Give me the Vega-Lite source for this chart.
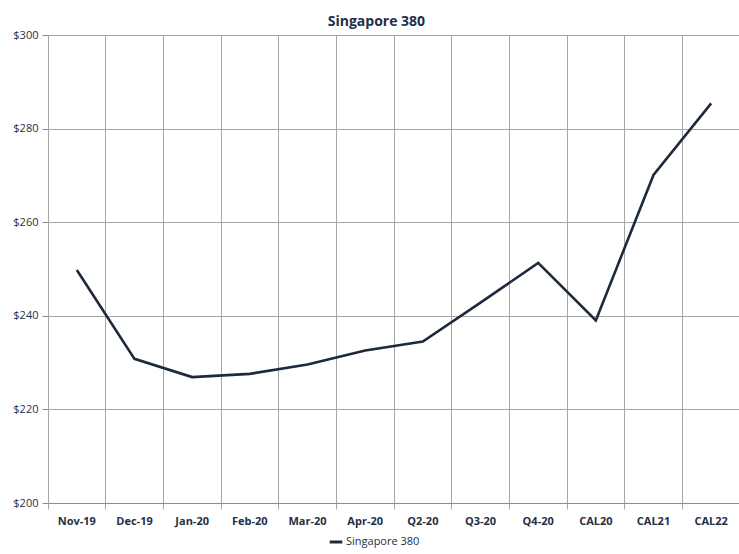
{
  "$schema": "https://vega.github.io/schema/vega-lite/v6.json",
  "width": 692,
  "height": 468,
  "autosize": {"type": "none"},
  "padding": {"left": 48, "top": 35, "right": 0, "bottom": 51},
  "background": "white",
  "title": {
    "text": "Singapore 380",
    "font": "Open Sans",
    "fontSize": 14,
    "fontWeight": "bold",
    "color": "#1f2f44",
    "anchor": "middle",
    "frame": "bounds",
    "offset": 0
  },
  "data": {
    "values": [
      {"period": "Nov-19", "price": 249.8, "series": "Singapore 380"},
      {"period": "Dec-19", "price": 230.8, "series": "Singapore 380"},
      {"period": "Jan-20", "price": 226.9, "series": "Singapore 380"},
      {"period": "Feb-20", "price": 227.6, "series": "Singapore 380"},
      {"period": "Mar-20", "price": 229.6, "series": "Singapore 380"},
      {"period": "Apr-20", "price": 232.6, "series": "Singapore 380"},
      {"period": "Q2-20", "price": 234.5, "series": "Singapore 380"},
      {"period": "Q3-20", "price": 242.8, "series": "Singapore 380"},
      {"period": "Q4-20", "price": 251.3, "series": "Singapore 380"},
      {"period": "CAL20", "price": 239.0, "series": "Singapore 380"},
      {"period": "CAL21", "price": 270.1, "series": "Singapore 380"},
      {"period": "CAL22", "price": 285.4, "series": "Singapore 380"}
    ]
  },
  "mark": {"type": "line", "strokeWidth": 2.6, "strokeJoin": "miter"},
  "encoding": {
    "x": {
      "field": "period",
      "type": "ordinal",
      "sort": null,
      "bandPosition": 0.5,
      "scale": {"type": "band", "paddingInner": 0, "paddingOuter": 0},
      "axis": {
        "title": null,
        "labelAngle": 0,
        "labelFont": "Open Sans",
        "labelFontSize": 11,
        "labelFontWeight": "bold",
        "labelColor": "#1f2f44",
        "labelPadding": 6,
        "bandPosition": 0,
        "labelBound": false,
        "grid": true,
        "gridColor": "#a6a6a6",
        "gridWidth": 1,
        "tickColor": "#a6a6a6",
        "tickSize": 6,
        "domainColor": "#8c8c8c",
        "domainWidth": 1
      }
    },
    "y": {
      "field": "price",
      "type": "quantitative",
      "scale": {"domain": [200, 300], "nice": false, "zero": false},
      "axis": {
        "title": null,
        "values": [200, 220, 240, 260, 280, 300],
        "labelExpr": "'$' + datum.value",
        "labelFont": "Open Sans",
        "labelFontSize": 11,
        "labelColor": "#1f2f44",
        "labelPadding": 4,
        "grid": true,
        "gridColor": "#a6a6a6",
        "gridWidth": 1,
        "tickColor": "#8c8c8c",
        "tickSize": 6,
        "domainColor": "#a6a6a6"
      }
    },
    "color": {
      "field": "series",
      "type": "nominal",
      "scale": {"range": ["#1c2a3c"]},
      "legend": {
        "title": null,
        "orient": "none",
        "legendX": 280,
        "legendY": 499,
        "symbolType": "stroke",
        "symbolStrokeWidth": 3,
        "symbolSize": 160,
        "labelFont": "Open Sans",
        "labelFontSize": 11,
        "labelColor": "#1f2f44",
        "labelOffset": 2
      }
    }
  },
  "config": {
    "view": {"stroke": null}
  }
}
